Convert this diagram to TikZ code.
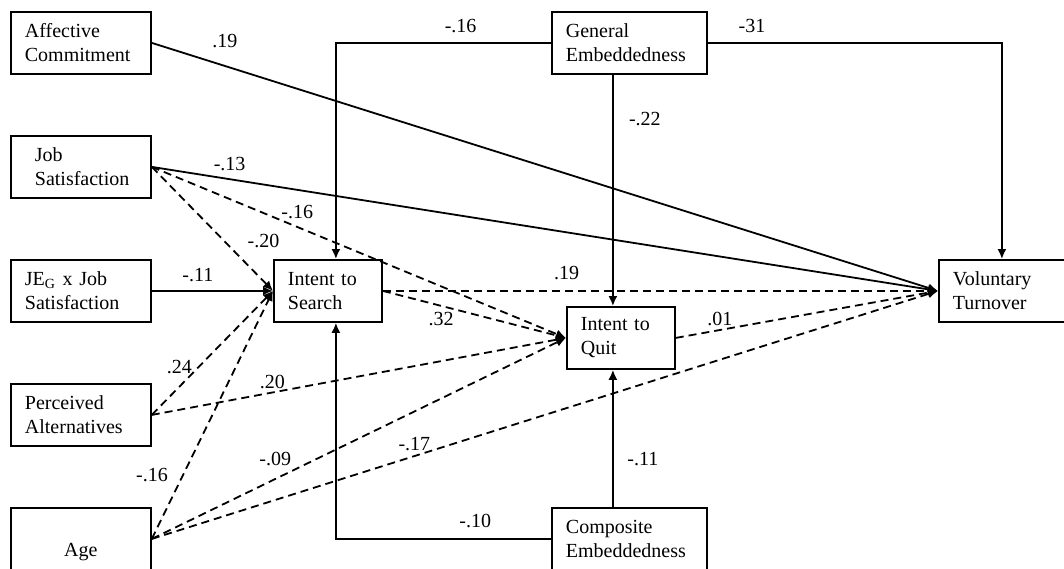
\documentclass[tikz,border=0pt]{standalone}
\usepackage{fontspec}
\setmainfont{Liberation Serif}
\usetikzlibrary{arrows.meta}
\tikzstyle{var} = [draw, line width=0.9pt, anchor=north west, align=left,
  text width=56pt, minimum height=31pt, inner xsep=7pt]
\tikzstyle{mid} = [var, text width=40pt]
\tikzstyle{emb} = [var, text width=63.5pt]
\tikzstyle{outcome} = [var, text width=49pt]
\tikzstyle{line} = [draw, line width=0.9pt, -{Latex[length=5pt,width=4.5pt]}]
\tikzstyle{dline} = [line, dash pattern=on 4pt off 2.5pt]
\tikzstyle{coef} = [inner sep=1pt]
\newcommand{\varnode}[3]{node (p#1)[#2]{#3}}

\begin{document}
\begin{tikzpicture}[x=0.5pt,y=-0.5pt,font=\fontsize{10}{12}\selectfont]
	\useasboundingbox (0,0) rectangle (1064,568);

	% Draw diagram elements
	\path (10,11) \varnode{1}{var}{Affective\\Commitment};
	\path (p1.north west)+(0,124) \varnode{2}{var}{\hspace*{5pt}Job\\\hspace*{5pt}Satisfaction};
	\path (p2.north west)+(0,124) \varnode{3}{var}{JE\textsubscript{G} x Job\\Satisfaction};
	\path (p3.north west)+(0,124) \varnode{4}{var}{Perceived\\Alternatives};
	\path (p4.north west)+(0,124) \varnode{5}{var,align=center}{\mbox{}\\[8pt]Age\hspace*{4pt}};

	\path (p3.north west)+(263,0) \varnode{6}{mid}{Intent to\\Search};
	\path (p6.north west)+(293,47) \varnode{7}{mid}{Intent to\\Quit};
	\path (p1.north west)+(541,0) \varnode{8}{emb}{General\\Embeddedness};
	\path (p5.north west)+(541,0) \varnode{9}{emb}{Composite\\Embeddedness};
	\path (p6.north west)+(665,0) \varnode{10}{outcome}{Voluntary\\Turnover};

	% bends of the embeddedness paths
	\coordinate (s1) at ([xshift=4pt]p6.north);
	\coordinate (s2) at ([xshift=4pt]p6.south);
	\coordinate (q1) at ([xshift=-4pt]p7.north);
	\coordinate (q2) at ([xshift=-4pt]p7.south);

	% Draw arrows between elements
	\path [line] (p1.east) -- node [coef, pos=.093, yshift=12.5pt] {.19} (p10.west);
	\path [line] (p2.east) -- node [coef, pos=.099, yshift=7.5pt] {-.13} (p10.west);
	\path [dline] (p2.east) -- node [coef, pos=.6, xshift=19.5pt] {-.20} (p6.west);
	\path [dline] (p2.east) -- node [coef, pos=.351, yshift=7.5pt] {-.16} (p7.west);
	\path [line] (p3.east) -- node [coef, pos=.38, yshift=8pt] {-.11} (p6.west);
	\path [dline] (p4.east) -- node [coef, pos=.228, yshift=10pt] {.24} (p6.west);
	\path [dline] (p4.east) -- node [coef, pos=.291, yshift=5.3pt] {.20} (p7.west);
	\path [dline] (p5.east) -- node [coef, pos=.258, xshift=-15.5pt] {-.16} (p6.west);
	\path [dline] (p5.east) -- node [coef, pos=.298, yshift=10pt] {-.09} (p7.west);
	\path [dline] (p5.east) -- node [coef, pos=.334, yshift=6pt] {-.17} (p10.west);
	\path [dline] (p6.east) -- node [coef, pos=.319, yshift=-6.5pt] {.32} (p7.west);
	\path [dline] (p6.east) -- node [coef, pos=.331, yshift=9pt] {.19} (p10.west);
	\path [dline] (p7.east) -- node [coef, pos=.168, yshift=5.5pt] {.01} (p10.west);
	\path [line] (p8.west) -| node [coef, pos=.21, yshift=8.5pt] {-.16} (s1);
	\path [line] (q1 |- p8.south) -- node [coef, pos=.193, xshift=16pt] {-.22} (q1);
	\path [line] (p8.east) -| node [coef, pos=.075, yshift=8.5pt] {-31} (p10.north);
	\path [line] (p9.west) -| node [coef, pos=.176, yshift=9pt] {-.10} (s2);
	\path [line] (q2 |- p9.north) -- node [coef, pos=.35, xshift=15pt] {-.11} (q2);

\end{tikzpicture}
\end{document}
